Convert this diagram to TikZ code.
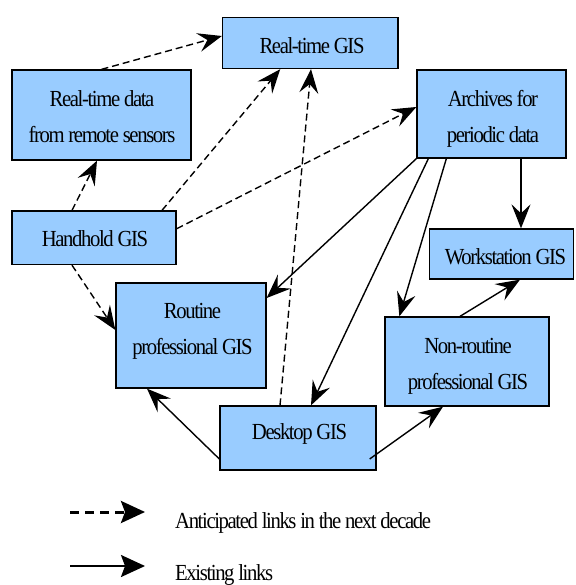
\documentclass[tikz,border=0pt]{standalone}
\usepackage{fontspec}
\setmainfont{Liberation Serif}[FakeStretch=0.9,LetterSpace=-6]
\usetikzlibrary{arrows.meta,calc}
\definecolor{boxblue}{RGB}{153,204,255}
\tikzset{
  gbox/.style={draw=black, line width=1.3pt, fill=boxblue, inner sep=0pt, anchor=center},
  lbl/.style={align=center, font=\fontsize{23}{36}\selectfont, inner sep=0pt, anchor=center},
  legtext/.style={font=\fontsize{23}{28}\selectfont, inner sep=0pt, anchor=west},
  anti/.style={line width=1.4pt, dash pattern=on 7pt off 4pt, -{Stealth[length=24pt,width=19pt,inset=9pt]}},
  exist/.style={line width=1.4pt, -{Stealth[length=24pt,width=19pt,inset=9pt]}},
  antileg/.style={line width=3pt, dash pattern=on 9pt off 6pt, -{Stealth[length=24pt,width=22pt,inset=4pt]}},
  existleg/.style={line width=2pt, -{Stealth[length=24pt,width=22pt,inset=4pt]}},
}
\begin{document}
\begin{tikzpicture}[x=1pt,y=-1pt]
\useasboundingbox (0,0) rectangle (575,585);
% boxes
\node[gbox, minimum width=175.5pt, minimum height=51pt] (rtgis) at (310.25,43) {};
\node[gbox, minimum width=179pt, minimum height=90pt] (rtdata) at (101.5,115) {};
\node[gbox, minimum width=149pt, minimum height=88pt] (arch) at (491.5,114) {};
\node[gbox, minimum width=164pt, minimum height=53.5pt] (hand) at (94,237.75) {};
\node[gbox, minimum width=144.5pt, minimum height=50pt] (work) at (501.5,254) {};
\node[gbox, minimum width=150pt, minimum height=105pt] (rout) at (191,335.5) {};
\node[gbox, minimum width=164pt, minimum height=89pt] (nonr) at (467,361.5) {};
\node[gbox, minimum width=156pt, minimum height=64pt] (desk) at (298,438) {};
% texts
\node[lbl] (rtgis-t) at (312,46) {Real-time GIS};
\node[lbl] (rtdata-t) at (102,116.5) {Real-time data\\from remote sensors};
\node[lbl] (arch-t) at (493,118.5) {Archives for\\periodic data};
\node[lbl] (hand-t) at (95,239) {Handhold GIS};
\node[lbl] (work-t) at (505.5,257) {Workstation GIS};
\node[lbl] (rout-t) at (192.5,331) {Routine\\professional GIS};
\node[lbl] (nonr-t) at (468,366) {Non-routine\\professional GIS};
\node[lbl] (desk-t) at (299.5,434) {Desktop GIS};
% anticipated links
\draw[anti] (rtdata.north) -- ([yshift=7pt]rtgis.west);
\draw[anti] ([xshift=-22pt]hand.north) -- ([xshift=-4.5pt]rtdata.south);
\draw[anti] ([xshift=68pt]hand.north) -- ([xshift=-30pt]rtgis.south);
\draw[anti] ([yshift=9pt]hand.east) -- ([yshift=7pt]arch.west);
\draw[anti] ([xshift=-22pt]hand.south) -- ([yshift=5.5pt]rout.west);
\draw[anti] ([xshift=-18pt]desk.north) -- ([xshift=0.75pt]rtgis.south);
% existing links
\draw[exist] (arch.south west) -- ([yshift=37.5pt]rout.east);
\draw[exist] ([xshift=12pt]arch.south west) -- ([xshift=13pt]desk.north);
\draw[exist] ([xshift=30pt]arch.south west) -- ([xshift=15pt]nonr.north west);
\draw[exist] ([xshift=29.5pt]arch.south) -- ([xshift=19.5pt]work.north);
\draw[exist] ([xshift=-7pt]nonr.north) -- ([xshift=18.5pt]work.south);
\draw[exist] ([yshift=-21pt]desk.west) -- ([xshift=-44pt]rout.south);
\draw[exist] ([xshift=-7pt,yshift=-21pt]desk.east) -- ([xshift=-24pt]nonr.south);
% legend
\coordinate (la1) at (70,512);
\coordinate (la2) at (145,512);
\coordinate (le1) at (70,566);
\coordinate (le2) at (145,566);
\draw[antileg] (la1) -- (la2);
\draw[existleg] (le1) -- (le2);
\node[legtext] (leg-a) at (175,523) {Anticipated links in the next decade};
\node[legtext] (leg-e) at (175,575) {Existing links};
\end{tikzpicture}
\end{document}
